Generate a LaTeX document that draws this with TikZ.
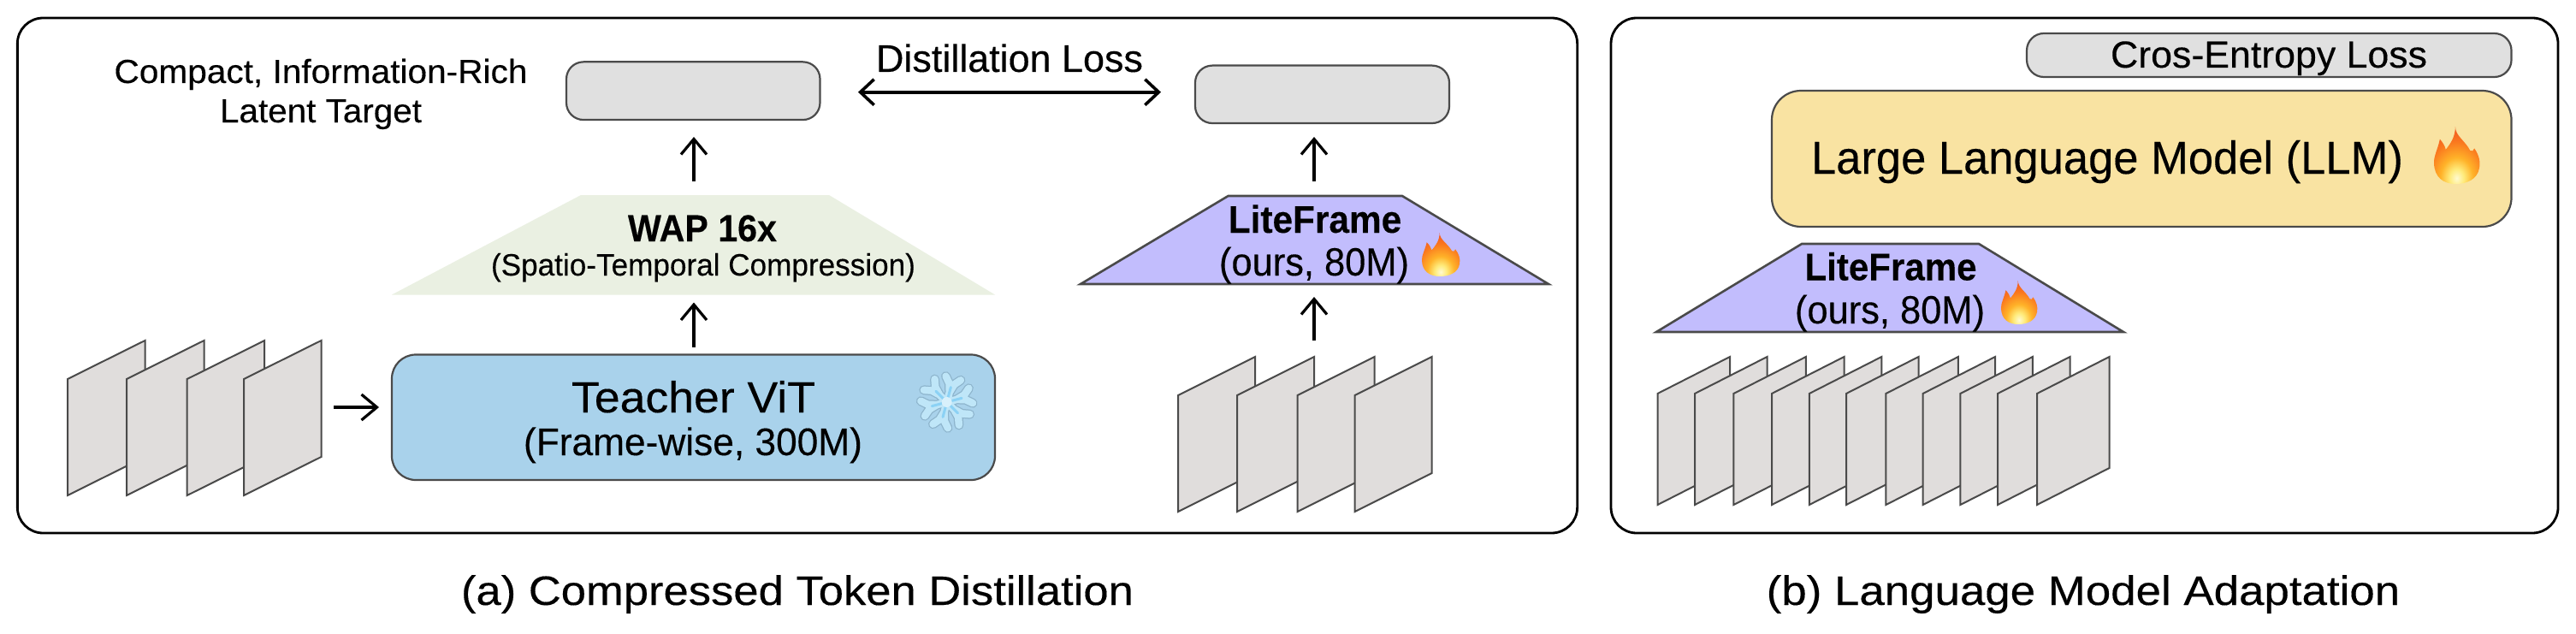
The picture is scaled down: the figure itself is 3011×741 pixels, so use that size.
\documentclass[tikz,border=0pt]{standalone}
\usepackage{graphicx}
\usepackage{fontspec}
\setmainfont[FakeBold=0.25,BoldFeatures={FakeBold=0.2}]{Liberation Sans}
\usetikzlibrary{arrows.meta}
\definecolor{strokeg}{HTML}{4A4A4A}
\definecolor{grayfill}{HTML}{E0E0E0}
\definecolor{framefill}{HTML}{E0DDDC}
\definecolor{wapfill}{HTML}{EAF0E2}
\definecolor{bluefill}{HTML}{A9D2EB}
\definecolor{purplefill}{HTML}{C2BDFD}
\definecolor{yellowfill}{HTML}{F9E3A2}
\definecolor{flakeedge}{HTML}{8DB4CC}
\definecolor{flakelight}{HTML}{BFE6F8}
\definecolor{flakecore}{HTML}{8CD2F5}
\definecolor{flakemid}{HTML}{D8F0FB}
\pgfdeclareradialshading{flamesh}{\pgfpoint{0bp}{0bp}}{%
 rgb(0bp)=(1,0.98,0.82); rgb(2bp)=(1,0.92,0.48); rgb(4.5bp)=(1,0.70,0.16);
 rgb(8bp)=(0.98,0.47,0.12); rgb(12.5bp)=(0.93,0.28,0.14); rgb(25bp)=(0.88,0.22,0.14); rgb(50bp)=(0.88,0.22,0.14)}
\newcommand\fittext[3]{\resizebox{#1pt}{\height}{\fontsize{#2pt}{#2pt}\selectfont #3}}
\newcommand\flamepath{(.47,1) .. controls (.47,.84) and (.68,.76) .. (.80,.58) .. controls (.84,.56) and (.87,.58) .. (.89,.62) .. controls (.98,.52) and (1.03,.40) .. (1,.28) .. controls (.96,.08) and (.72,0) .. (.48,0) .. controls (.2,0) and (.01,.12) .. (0,.36) .. controls (-.01,.48) and (.08,.60) .. (.13,.78) .. controls (.2,.72) and (.24,.66) .. (.26,.60) .. controls (.36,.70) and (.47,.82) .. (.47,1) -- cycle}
% left, top, width, height (pixels)
\newcommand\flameicon[4]{%
 \begin{scope}[shift={(#1,#2+#4)},x=#3pt,y=#4pt]
  \begin{scope}
   \clip \flamepath;
   \shade[shading=flamesh] (.5,.1) circle (2);
  \end{scope}
 \end{scope}}
\newcommand\flakearm[2]{%
 \draw[line width=#1pt,draw=#2,line cap=round,line join=round] (0,0) -- (20,0) (12,0) -- (22,-3) -- (29,-9) (12,0) -- (22,3) -- (29,9);}
\newcommand\frameitem[5]{% x, y of left top, width, height, rise
 \draw[frameshape] (#1,#2) -- ++(#3,-#5) -- ++(0,#4) -- ++(-#3,#5) -- cycle;}
\tikzset{
 panel/.style={draw=black,line width=2.8pt,rounded corners=30pt,fill=white,inner sep=0,outer sep=0},
 softbox/.style={draw=strokeg,line width=2.2pt,inner sep=0,outer sep=0},
 frameshape/.style={draw=strokeg,line width=2pt,fill=framefill,line join=miter},
 txt/.style={anchor=base,inner sep=0,outer sep=0,text=black},
 arr/.style={draw=black,line width=3.2pt,-{Straight Barb[length=18pt,width=30pt,line width=3.2pt]}},
 darr/.style={draw=black,line width=4pt,{Straight Barb[length=16pt,width=30pt,line width=3.6pt]}-{Straight Barb[length=16pt,width=30pt,line width=3.6pt]}}
}
\begin{document}
\begin{tikzpicture}[x=1pt,y=-1pt]
\useasboundingbox[fill=white] (0,0) rectangle (3011,741);
% panels
\node[panel,minimum width=1823.3pt,minimum height=602pt] (panelA) at (932,322) {};
\node[panel,minimum width=1107pt,minimum height=602pt] (panelB) at (2436.5,322) {};
% latent boxes
\node[softbox,fill=grayfill,rounded corners=20pt,minimum width=296.5pt,minimum height=67.7pt] (latentL) at (810.25,106.2) {};
\node[softbox,fill=grayfill,rounded corners=20pt,minimum width=297pt,minimum height=67.4pt] (latentR) at (1545.5,110.3) {};
% teacher
\node[softbox,fill=bluefill,rounded corners=28pt,minimum width=705pt,minimum height=146.5pt] (teacher) at (810.5,487.75) {};
% WAP trapezoid
\fill[wapfill] (458,344.5) -- (679,228) -- (969,228) -- (1163,344.5) -- cycle;
\coordinate (wapTop) at (811,228);
\coordinate (wapBottom) at (811,344.5);
% LiteFrame A
\draw[draw=strokeg,line width=2.6pt,fill=purplefill,line join=miter] (1263,332) -- (1435.6,229) -- (1639,229) -- (1810,332) -- cycle;
\coordinate (liteATop) at (1536,229);
\coordinate (liteABottom) at (1536,332);
% frames A1
\foreach \fx in {79,148,218.7,285} {\frameitem{\fx}{443}{90.5}{136}{45}}
\coordinate (framesLeftOut) at (375.6,476);
\coordinate (teacherIn) at (458,476);
% frames A2
\foreach \fx in {1377,1446,1516.6,1583.5} {\frameitem{\fx}{462}{90}{136}{45}}
\coordinate (framesRightTop) at (1536,417);
% panel b boxes
\node[softbox,fill=grayfill,rounded corners=20pt,minimum width=566.5pt,minimum height=51pt] (ceLoss) at (2652.25,64.5) {};
\node[softbox,fill=yellowfill,rounded corners=34pt,minimum width=864.5pt,minimum height=159pt] (llm) at (2503.25,185.5) {};
\draw[draw=strokeg,line width=2.6pt,fill=purplefill,line join=miter] (1936,388) -- (2106,285) -- (2313,285) -- (2482,388) -- cycle;
\foreach \fx in {1937.5,1981,2026.4,2071,2114.8,2158,2204.4,2247.6,2291.4,2335,2381} {\frameitem{\fx}{460}{84.5}{130}{43}}
% connectors
\coordinate (latentLFoot) at (811,140);
\coordinate (latentRFoot) at (1536,144);
\draw[arr,shorten <=16pt,shorten >=20pt] (wapTop) -- (latentLFoot);
\draw[arr,shorten <=9pt,shorten >=9pt] (teacher.north -| wapBottom) -- (wapBottom);
\draw[arr,shorten <=14.4pt,shorten >=15pt] (framesLeftOut) -- (teacherIn);
\draw[arr,shorten <=17pt,shorten >=16pt] (liteATop) -- (latentRFoot);
\draw[arr,shorten <=18.6pt,shorten >=15pt] (framesRightTop) -- (liteABottom);
\coordinate (distL) at (958.5,107.7);
\coordinate (distR) at (1397,107.7);
\draw[darr,shorten <=44.5pt,shorten >=40pt] (distL) -- (distR);
% texts
\node[txt] (tCompact) at (375,97) {\fittext{483}{39}{Compact, Information-Rich}};
\node[txt] (tLatent) at (375,143) {\fittext{236}{39}{Latent Target}};
\node[txt] (tDist) at (1180,84) {\fittext{312}{45}{Distillation Loss}};
\node[txt] (tWap) at (821,282) {\fittext{174}{44}{\bfseries WAP 16x}};
\node[txt] (tSpatio) at (822,322) {\fittext{496}{36}{(Spatio-Temporal Compression)}};
\node[txt] (tTeacher) at (810.5,482) {\fittext{285}{51}{Teacher ViT}};
\node[txt] (tFrame) at (810,532) {\fittext{396}{45}{(Frame-wise, 300M)}};
\node[txt] (tLiteA) at (1537,272) {\fittext{202.5}{45}{\bfseries LiteFrame}};
\node[txt] (tOursA) at (1536,322) {\fittext{222}{46}{(ours, 80M)}};
\node[txt] (tCE) at (2652,79) {\fittext{370}{44}{Cros-Entropy Loss}};
\node[txt] (tLLM) at (2463,203) {\fittext{692}{54}{Large Language Model (LLM)}};
\node[txt] (tLiteB) at (2210,327.5) {\fittext{201}{45}{\bfseries LiteFrame}};
\node[txt] (tOursB) at (2209,378) {\fittext{222}{46}{(ours, 80M)}};
\node[txt] (capA) at (932,707) {\fittext{786}{48}{(a) Compressed Token Distillation}};
\node[txt] (capB) at (2435,707) {\fittext{740.5}{48}{(b) Language Model Adaptation}};
% flames
\flameicon{1662}{272}{44}{51}
\flameicon{2845}{148}{53}{67}
\flameicon{2339}{328}{42}{51}
% snowflake
\begin{scope}[shift={(1106.7,470)}]
 \foreach \a in {15,75,135,195,255,315} {\begin{scope}[rotate=\a]\flakearm{11}{flakeedge}\end{scope}}
 \foreach \a in {15,75,135,195,255,315} {\begin{scope}[rotate=\a]\flakearm{8.5}{flakelight}\end{scope}}
 \foreach \a in {15,75,135,195,255,315} {\begin{scope}[rotate=\a]\draw[line width=3pt,draw=flakecore,line cap=round] (2,0) -- (18,0);\end{scope}}
 \fill[flakemid] (0,0) circle (6);
\end{scope}
\end{tikzpicture}
\end{document}
